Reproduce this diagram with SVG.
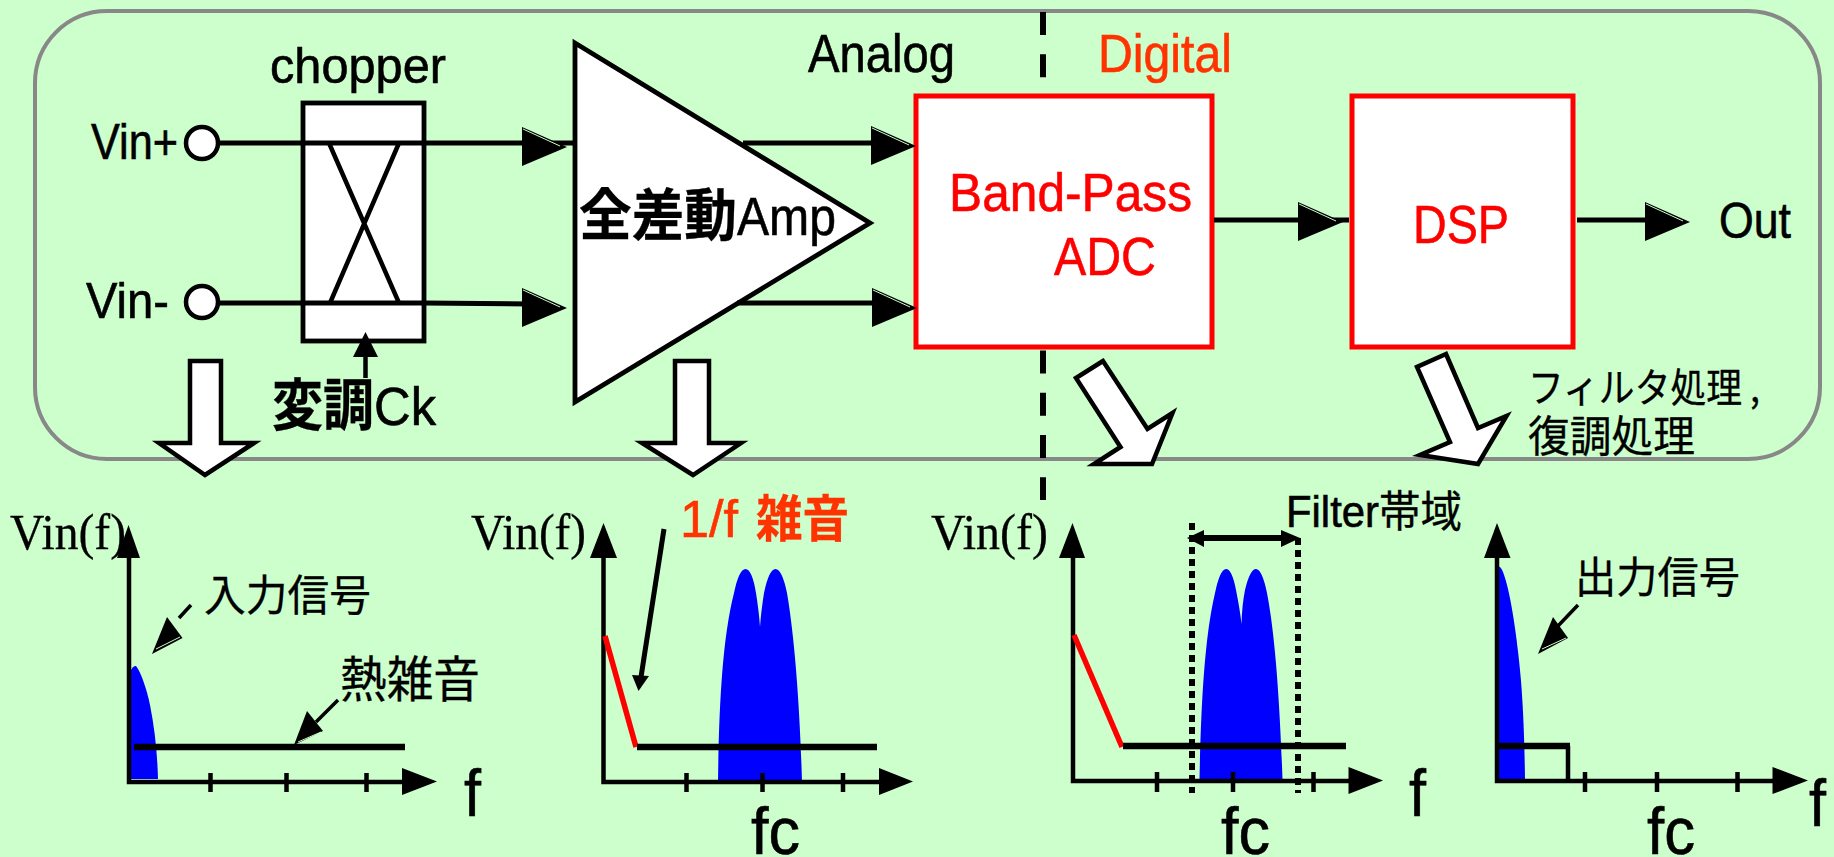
<svg xmlns="http://www.w3.org/2000/svg" width="1834" height="857" viewBox="0 0 1834 857">
<defs>
<style>
text{font-family:"Liberation Sans","Noto Sans CJK JP",sans-serif;fill:#000;stroke:#000;stroke-width:.6}
.cjk{font-family:"Noto Sans CJK JP","Liberation Sans",sans-serif;stroke-width:.3}
.serif{font-family:"Liberation Serif",serif;font-size:50px;stroke-width:.3}
.red{fill:#f00;stroke:#f00}.org{fill:#ff3300;stroke:#ff3300}
.ln{fill:none;stroke:#000;stroke-width:4.500}
.thick{fill:none;stroke:#000;stroke-width:6.500}
.rl{fill:none;stroke:#f00;stroke-width:5.500}
.box{fill:#fff;stroke:#000;stroke-width:4.800}
.rbox{fill:#fff;stroke:#f00;stroke-width:5}
.hollow{fill:#fff;stroke:#000;stroke-width:4.500;stroke-linejoin:miter}
.blue{fill:#00f;stroke:none}
.ah{fill:#000;stroke:none}
.sl{fill:none;stroke:#ccffcc;stroke-width:1}
.dot{fill:none;stroke:#000;stroke-width:6;stroke-dasharray:7 5}
.big{font-size:66px}
</style>
<g id="hr"><polygon class="ah" points="0,-19 45,1 0,20"/><path class="sl" d="M1,-17 L38,0"/></g>
</defs>
<rect width="1834" height="857" fill="#ccffcc"/>
<rect id="frame" x="35" y="11" width="1785" height="448" rx="72" ry="72" fill="#ccffcc" stroke="#888" stroke-width="4"/>
<path id="divider" d="M1043,12 V500" fill="none" stroke="#000" stroke-width="6" stroke-dasharray="23 19.3"/>

<g id="chopper">
<rect class="box" x="303" y="103" width="121" height="238"/>
<path class="ln" d="M329,143 L399,303 M399,143 L330,303"/>
<text x="270" y="83" font-size="50" textLength="176" lengthAdjust="spacingAndGlyphs">chopper</text>
</g>
<g id="amp">
<polygon class="box" points="575,43 870,223 575,402"/>
<text x="579" y="235" font-size="53"><tspan class="cjk" font-size="56" font-weight="700" textLength="158" lengthAdjust="spacingAndGlyphs">全差動</tspan><tspan x="737" textLength="99" lengthAdjust="spacingAndGlyphs">Amp</tspan></text>
</g>
<g id="adc">
<rect class="rbox" x="916" y="96" width="296" height="251"/>
<text class="red" x="949" y="211" font-size="54" textLength="243" lengthAdjust="spacingAndGlyphs">Band-Pass</text>
<text class="red" x="1054" y="275" font-size="54" textLength="102" lengthAdjust="spacingAndGlyphs">ADC</text>
</g>
<g id="dsp">
<rect class="rbox" x="1352" y="96" width="221" height="251"/>
<text class="red" x="1413" y="243" font-size="54" textLength="96" lengthAdjust="spacingAndGlyphs">DSP</text>
</g>
<g id="vinp"><circle cx="202" cy="143" r="16" fill="#fff" stroke="#000" stroke-width="4.500"/>
<text x="91" y="159" font-size="50" textLength="87" lengthAdjust="spacingAndGlyphs">Vin+</text></g>
<g id="vinm"><circle cx="202" cy="302" r="16" fill="#fff" stroke="#000" stroke-width="4.500"/>
<text x="86" y="318" font-size="50" textLength="83" lengthAdjust="spacingAndGlyphs">Vin-</text></g>
<g id="labels">
<text x="808" y="72" font-size="53" textLength="147" lengthAdjust="spacingAndGlyphs">Analog</text>
<text class="org" x="1098" y="72" font-size="53" textLength="134" lengthAdjust="spacingAndGlyphs">Digital</text>
<text x="1719" y="238" font-size="50" textLength="72" lengthAdjust="spacingAndGlyphs">Out</text>
<text x="272" y="425" font-size="53"><tspan class="cjk" font-size="56" font-weight="700" textLength="102" lengthAdjust="spacingAndGlyphs">変調</tspan><tspan x="374" textLength="62" lengthAdjust="spacingAndGlyphs">Ck</tspan></text>
<text class="cjk" x="1528" y="402" font-size="40" textLength="232" lengthAdjust="spacingAndGlyphs">フィルタ処理 ,</text>
<text class="cjk" x="1528" y="452" font-size="43" textLength="167" lengthAdjust="spacingAndGlyphs">復調処理</text>
</g>

<g id="connectors">
<path class="ln" style="stroke-width:5" d="M219,143 H525 M528,143 H573 M219,303 H424 M424,303 L530,304 M743,143 H875 M737,303 H875 M1214,220 H1349 M1577,220 H1650"/>
<path class="ln" d="M365.500,378 V350"/>
<use href="#hr" x="522" y="146"/>
<use href="#hr" x="522" y="307"/>
<use href="#hr" x="871" y="145"/>
<use href="#hr" x="872" y="307"/>
<use href="#hr" x="1298" y="221"/>
<use href="#hr" x="1645" y="221"/>
<polygon class="ah" points="365.500,332 378,357 353,357"/>
<polygon class="hollow" points="190,361 221,361 221,443 254,443 205,475 159,443 190,443"/>
<polygon class="hollow" points="675,361 709,361 709,443 741,443 693,475 642,443 675,443"/>
<polygon class="hollow" points="1103,361 1076,378 1120.500,447 1094,464 1152,464 1172.500,413 1147.500,429"/>
<polygon class="hollow" points="1446,354 1417,367 1450,442 1420,455 1478,464 1506.500,416 1478,428"/>
<path class="ln" style="stroke-width:3.500" d="M191,605 L179,618 M338,700 L316,722 M1578,605 L1557,627"/>
<polygon class="ah" points="152,654 167,617 182.500,638"/><path class="sl" d="M156,649 L180,637"/>
<polygon class="ah" points="294,745 307,711 323,731"/><path class="sl" d="M298,742 L321,732"/>
<polygon class="ah" points="1538,654 1553,617 1568,638"/><path class="sl" d="M1542,649 L1566,638"/>
<path class="ln" style="stroke-width:5" d="M664,529 L641,677"/>
<polygon class="ah" points="638.500,691 632,675 649,676"/>
<path class="ln" style="stroke-width:6" d="M1198,538 H1290"/>
<polygon class="ah" points="1187,538 1204,530 1204,547"/>
<polygon class="ah" points="1300,538 1281,530 1281,547"/>
</g>

<g id="chart1">
<path class="blue" d="M130,779 V672 Q133,665 136,666 C141,672 147,690 150,705 Q157,740 158,779 Z"/>
<path class="ln" d="M129,558 V782 H405 M210.500,773 V792 M286.500,773 V792 M366.500,773 V792"/>
<polygon class="ah" points="128.500,525 140,558 117,558"/>
<polygon class="ah" points="402,768 437,781.500 402,795"/>
<path class="thick" d="M134,747 H405"/>
<text class="serif" x="10" y="549" textLength="116" lengthAdjust="spacingAndGlyphs">Vin(f)</text>
<text class="cjk" x="204" y="611" font-size="43" textLength="167" lengthAdjust="spacingAndGlyphs">入力信号</text>
<text class="cjk" x="340" y="697" font-size="49" textLength="140" lengthAdjust="spacingAndGlyphs">熱雑音</text>
<text class="big" x="464" y="816" textLength="17" lengthAdjust="spacingAndGlyphs">f</text>
</g>
<g id="chart2">
<path class="blue" d="M718,782 C719,710 722,640 734,593 Q739,569 745.500,569 Q752,569 756,593 Q759,612 760,627 Q761,612 764,593 Q769,569 775.500,569 Q782,569 787,593 C795,640 800,710 802,782 Z"/>
<path class="ln" d="M603.500,558 V782 H880 M686.500,773 V792 M762.500,773 V792 M843,773 V792"/>
<polygon class="ah" points="603.500,523 617,558 590,558"/>
<polygon class="ah" points="879,768 913,781.500 879,795"/>
<path class="rl" d="M605,636 L636,747"/>
<path class="thick" d="M637,747 H877"/>
<text class="serif" x="471" y="549" textLength="115" lengthAdjust="spacingAndGlyphs">Vin(f)</text>
<text class="org" x="680" y="537" font-size="52"><tspan textLength="58" lengthAdjust="spacingAndGlyphs">1/f</tspan><tspan class="cjk" x="756" font-size="50" font-weight="700" y="537" textLength="93" lengthAdjust="spacingAndGlyphs">雑音</tspan></text>
<text class="big" x="751" y="854" textLength="49" lengthAdjust="spacingAndGlyphs">fc</text>
</g>
<g id="chart3">
<path class="blue" d="M1199.500,779 C1201,710 1204,640 1215,593 Q1220,569 1226,569 Q1232,569 1236,590 Q1240,610 1241.500,624 Q1242,605 1245,590 Q1250,569 1256,569 Q1262,569 1267,593 C1276,640 1280,710 1282.500,779 Z"/>
<path class="ln" d="M1073,558 V781 H1350 M1157,772 V792 M1233,772 V792 M1313.500,772 V792"/>
<polygon class="ah" points="1072.500,523 1085,558 1059,558"/>
<polygon class="ah" points="1348.500,767 1383,780.500 1348.500,794"/>
<path class="rl" d="M1074,635 L1122,747"/>
<path class="thick" d="M1123,746 H1346"/>
<path class="dot" d="M1192,523 V793 M1298,538 V793"/>
<text class="serif" x="931" y="549" textLength="117" lengthAdjust="spacingAndGlyphs">Vin(f)</text>
<text x="1286" y="527" font-size="44"><tspan textLength="93" lengthAdjust="spacingAndGlyphs">Filter</tspan><tspan class="cjk" x="1379" font-size="43" textLength="83" lengthAdjust="spacingAndGlyphs">帯域</tspan></text>
<text class="big" x="1221" y="854" textLength="49" lengthAdjust="spacingAndGlyphs">fc</text>
<text class="big" x="1409" y="816" textLength="17" lengthAdjust="spacingAndGlyphs">f</text>
</g>
<g id="chart4">
<path class="blue" d="M1497,779 V567 Q1500,565 1503,572 C1510,590 1516,630 1520,670 Q1524,710 1525,779 Z"/>
<path class="ln" d="M1497,558 V781 H1775 M1585,772 V792 M1657,772 V792 M1737.500,772 V792 M1568,746 V781"/>
<polygon class="ah" points="1497,523 1510.500,558 1484,558"/>
<polygon class="ah" points="1772.500,767 1808,780.500 1772.500,794"/>
<path class="thick" d="M1497,746 H1570"/>
<text class="cjk" x="1575" y="593" font-size="43" textLength="165" lengthAdjust="spacingAndGlyphs">出力信号</text>
<text class="big" x="1647" y="854" textLength="48" lengthAdjust="spacingAndGlyphs">fc</text>
<text class="big" x="1809" y="826" textLength="17" lengthAdjust="spacingAndGlyphs">f</text>
</g>
</svg>
